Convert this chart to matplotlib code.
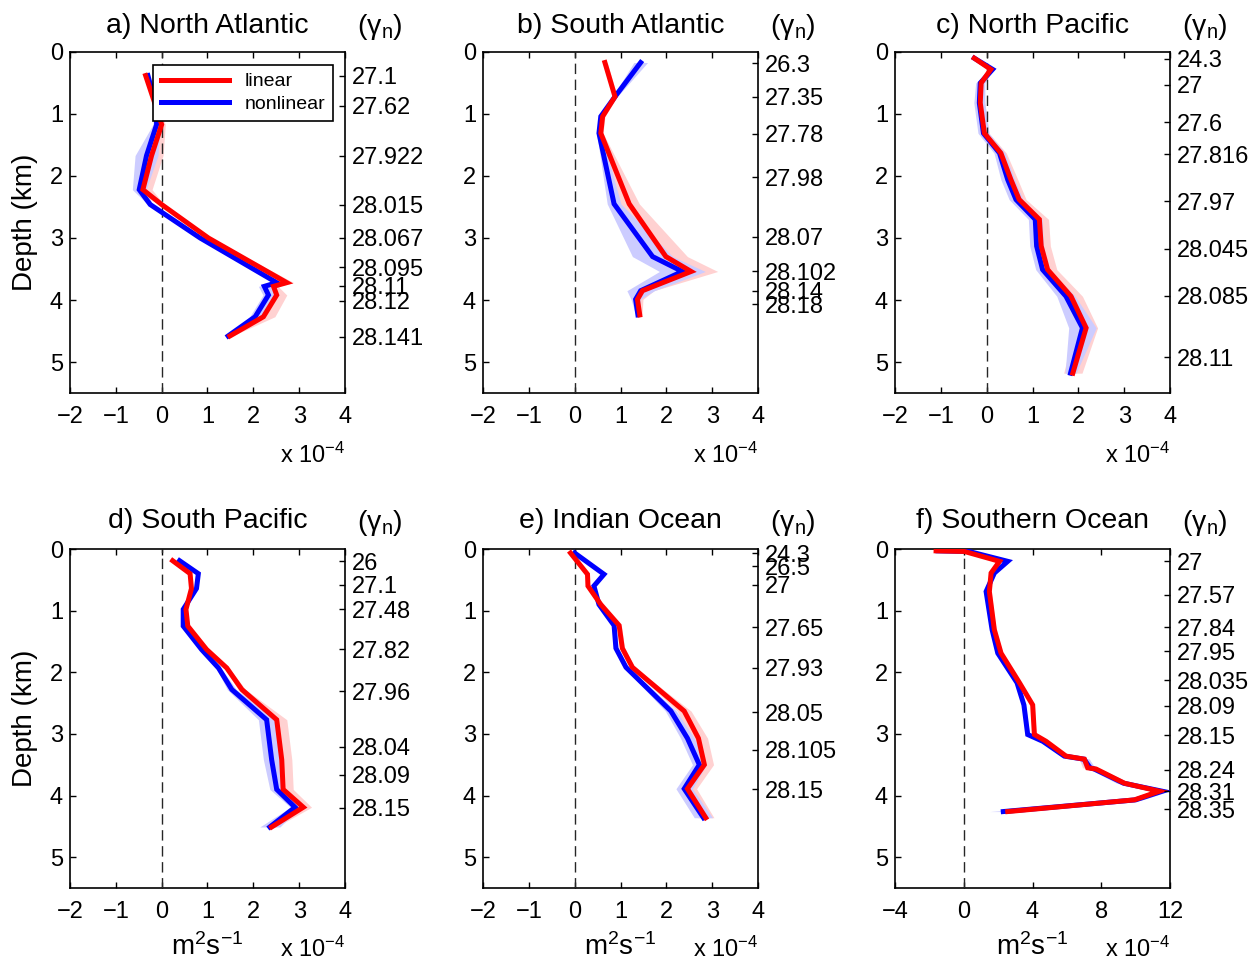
import matplotlib
matplotlib.use("Agg")
import matplotlib.pyplot as plt
import numpy as np

plt.rcParams['font.family'] = ['Liberation Sans', 'DejaVu Sans']
plt.rcParams['mathtext.fontset'] = 'custom'
plt.rcParams['mathtext.rm'] = 'Liberation Sans'
plt.rcParams['mathtext.it'] = 'Liberation Sans:italic'
plt.rcParams['mathtext.bf'] = 'Liberation Sans:bold'
plt.rcParams['axes.unicode_minus'] = True

# ---- diffusivity profiles (units of 1e-4 m^2 s^-1), depth in km ----
# a) North Atlantic
depth_a = [0.38, 0.87, 1.17, 1.67, 2.22, 2.46, 3.00, 3.72, 3.78, 3.92, 4.27, 4.58]
lin_a = [-0.35, -0.13, 0.00, -0.22, -0.41, 0.00, 1.02, 2.73, 2.44, 2.51, 2.22, 1.49]
nl_a = [-0.30, -0.12, -0.11, -0.33, -0.49, -0.25, 0.84, 2.51, 2.24, 2.33, 2.04, 1.45]
err_lin_a = [0.03, 0.05, 0.08, 0.25, 0.20, 0.05, 0.05, 0.15, 0.10, 0.22, 0.25, 0.05]
err_nl_a = [0.03, 0.05, 0.08, 0.25, 0.15, 0.05, 0.05, 0.08, 0.13, 0.12, 0.12, 0.05]
gamma_depth_a = [0.38, 0.87, 1.67, 2.46, 3.00, 3.47, 3.77, 4.01, 4.59]
gamma_a = ['27.1', '27.62', '27.922', '28.015', '28.067', '28.095', '28.11', '28.12', '28.141']

# b) South Atlantic
depth_b = [0.17, 0.72, 1.04, 1.31, 2.45, 3.30, 3.54, 3.85, 3.99, 4.24]
lin_b = [0.66, 0.88, 0.61, 0.57, 1.19, 1.99, 2.54, 1.48, 1.37, 1.42]
nl_b = [1.44, 0.88, 0.57, 0.53, 0.86, 1.70, 2.35, 1.44, 1.33, 1.38]
err_lin_b = [0.05, 0.05, 0.05, 0.05, 0.22, 0.47, 0.58, 0.25, 0.12, 0.05]
err_nl_b = [0.15, 0.05, 0.05, 0.05, 0.15, 0.44, 0.50, 0.30, 0.10, 0.05]
gamma_depth_b = [0.18, 0.72, 1.32, 2.02, 2.98, 3.54, 3.85, 4.07]
gamma_b = ['26.3', '27.35', '27.78', '27.98', '28.07', '28.102', '28.14', '28.18']

# c) North Pacific
depth_c = [0.10, 0.28, 0.50, 0.82, 1.31, 1.63, 2.06, 2.38, 2.70, 3.13, 3.51, 3.94, 4.45, 5.18]
lin_c = [-0.27, 0.09, -0.12, -0.14, -0.05, 0.31, 0.53, 0.71, 1.15, 1.19, 1.33, 1.84, 2.17, 1.88]
nl_c = [-0.27, 0.13, -0.14, -0.16, -0.07, 0.28, 0.46, 0.64, 1.06, 1.09, 1.22, 1.73, 2.09, 1.83]
err_lin_c = [0.02, 0.02, 0.05, 0.10, 0.10, 0.12, 0.15, 0.15, 0.20, 0.20, 0.20, 0.25, 0.25, 0.20]
err_nl_c = [0.02, 0.02, 0.10, 0.12, 0.12, 0.12, 0.15, 0.15, 0.15, 0.15, 0.15, 0.20, 0.30, 0.12]
gamma_depth_c = [0.11, 0.53, 1.13, 1.65, 2.41, 3.17, 3.93, 4.92]
gamma_c = ['24.3', '27', '27.6', '27.816', '27.97', '28.045', '28.085', '28.11']

# d) South Pacific
depth_d = [0.19, 0.40, 0.64, 0.98, 1.25, 1.63, 1.93, 2.28, 2.77, 3.42, 3.90, 4.19, 4.51]
lin_d = [0.24, 0.62, 0.65, 0.53, 0.57, 0.98, 1.42, 1.75, 2.51, 2.62, 2.65, 3.09, 2.40]
nl_d = [0.39, 0.80, 0.76, 0.47, 0.47, 0.87, 1.24, 1.53, 2.29, 2.40, 2.51, 2.91, 2.36]
err_lin_d = [0.02, 0.03, 0.03, 0.03, 0.03, 0.05, 0.05, 0.08, 0.22, 0.22, 0.22, 0.18, 0.10]
err_nl_d = [0.02, 0.03, 0.03, 0.03, 0.03, 0.05, 0.05, 0.10, 0.18, 0.18, 0.15, 0.10, 0.22]
gamma_depth_d = [0.20, 0.58, 0.98, 1.63, 2.31, 3.21, 3.66, 4.20]
gamma_d = ['26', '27.1', '27.48', '27.82', '27.96', '28.04', '28.09', '28.15']

# e) Indian Ocean
depth_e = [0.065, 0.41, 0.60, 0.90, 1.24, 1.61, 1.92, 2.63, 3.07, 3.50, 3.89, 4.36]
lin_e = [-0.09, 0.28, 0.29, 0.57, 0.97, 1.04, 1.26, 2.39, 2.70, 2.83, 2.46, 2.86]
nl_e = [0.00, 0.64, 0.42, 0.53, 0.86, 0.90, 1.12, 2.10, 2.46, 2.72, 2.39, 2.81]
err_lin_e = [0.02, 0.03, 0.03, 0.03, 0.05, 0.05, 0.05, 0.15, 0.20, 0.20, 0.20, 0.18]
err_nl_e = [0.02, 0.03, 0.03, 0.03, 0.05, 0.05, 0.05, 0.12, 0.15, 0.15, 0.18, 0.20]
gamma_depth_e = [0.065, 0.28, 0.58, 1.27, 1.93, 2.65, 3.26, 3.90]
gamma_e = ['24.3', '26.5', '27', '27.65', '27.93', '28.05', '28.105', '28.15']

# f) Southern Ocean
depth_f = [0.03, 0.04, 0.20, 0.39, 0.69, 1.31, 1.69, 2.17, 2.53, 3.01, 3.12, 3.36,
           3.41, 3.55, 3.57, 3.80, 3.93, 4.07, 4.26]
lin_f = [-1.61, 0.04, 2.08, 1.59, 1.49, 1.78, 2.17, 3.24, 4.01, 4.11, 4.79, 5.95,
         7.02, 7.21, 7.70, 9.35, 11.38, 9.93, 2.56]
nl_f = [-1.50, 0.30, 2.56, 1.78, 1.30, 1.65, 1.98, 3.10, 3.50, 3.72, 4.60, 5.85,
        7.00, 7.35, 7.60, 9.30, 11.55, 10.00, 2.30]
err_lin_f = [0.05, 0.05, 0.10, 0.10, 0.10, 0.10, 0.10, 0.10, 0.10, 0.10, 0.15, 0.20,
             0.30, 0.30, 0.30, 0.30, 0.30, 0.30, 0.30]
err_nl_f = [0.05, 0.05, 0.10, 0.10, 0.10, 0.10, 0.10, 0.10, 0.10, 0.10, 0.15, 0.20,
            0.30, 0.30, 0.30, 0.40, 0.40, 0.40, 0.80]
gamma_depth_f = [0.20, 0.74, 1.27, 1.66, 2.13, 2.54, 3.02, 3.58, 3.93, 4.22]
gamma_f = ['27', '27.57', '27.84', '27.95', '28.035', '28.09', '28.15', '28.24', '28.31', '28.35']

titles = ['a) North Atlantic', 'b) South Atlantic', 'c) North Pacific',
          'd) South Pacific', 'e) Indian Ocean', 'f) Southern Ocean']

panels = [
    (depth_a, lin_a, nl_a, err_lin_a, err_nl_a, gamma_depth_a, gamma_a),
    (depth_b, lin_b, nl_b, err_lin_b, err_nl_b, gamma_depth_b, gamma_b),
    (depth_c, lin_c, nl_c, err_lin_c, err_nl_c, gamma_depth_c, gamma_c),
    (depth_d, lin_d, nl_d, err_lin_d, err_nl_d, gamma_depth_d, gamma_d),
    (depth_e, lin_e, nl_e, err_lin_e, err_nl_e, gamma_depth_e, gamma_e),
    (depth_f, lin_f, nl_f, err_lin_f, err_nl_f, gamma_depth_f, gamma_f),
]

W, H = 1258, 961
fig = plt.figure(figsize=(W / 100, H / 100), dpi=100)

# axes boxes in pixels: left, top, right, bottom
boxes = [(70, 52, 345, 393), (483, 52, 758, 393), (895, 52, 1170, 393),
         (70, 549, 345, 888), (483, 549, 758, 888), (895, 549, 1170, 888)]

RED = (1.0, 0.0, 0.0)
BLUE = (0.0, 0.0, 1.0)
RED_BAND = (1.0, 0.82, 0.82)
BLUE_BAND = (0.80, 0.80, 1.0)
TICK_FS = 17

for i, (box, title, data) in enumerate(zip(boxes, titles, panels)):
    l, t, r, b = box
    ax = fig.add_axes([l / W, 1 - b / H, (r - l) / W, (b - t) / H])
    depth, lin, nl, elin, enl, gdep, glab = data
    depth = np.asarray(depth, float)
    lin = np.asarray(lin, float)
    nl = np.asarray(nl, float)
    elin = np.asarray(elin, float)
    enl = np.asarray(enl, float)

    ax.fill_betweenx(depth, lin - elin, lin + elin, color=RED_BAND, lw=0, zorder=1)
    ax.fill_betweenx(depth, nl - enl, nl + enl, color=BLUE_BAND, lw=0, zorder=2)
    ax.axvline(0, color='0.15', lw=1.0, ls=(0, (7.5, 4)), zorder=3)
    hb, = ax.plot(nl, depth, color=BLUE, lw=3.6, solid_joinstyle='miter', zorder=4)
    hr, = ax.plot(lin, depth, color=RED, lw=3.6, solid_joinstyle='miter', zorder=5)

    if i == 5:
        ax.set_xlim(-4, 12)
        ax.set_xticks([-4, 0, 4, 8, 12])
    else:
        ax.set_xlim(-2, 4)
        ax.set_xticks([-2, -1, 0, 1, 2, 3, 4])
    ax.set_ylim(5.5, 0)
    ax.set_yticks([0, 1, 2, 3, 4, 5])

    ax.tick_params(direction='in', length=4, width=1.0, labelsize=TICK_FS,
                   top=True, right=True, pad=9)
    ax.tick_params(axis='y', pad=5)
    for sp in ax.spines.values():
        sp.set_linewidth(1.2)

    # neutral density labels on the right side
    ax2 = ax.twinx()
    ax2.set_ylim(5.5, 0)
    ax2.set_yticks(gdep)
    ax2.set_yticklabels(glab)
    ax2.tick_params(direction='in', length=4, width=1.0, labelsize=TICK_FS, pad=5)
    for sp in ax2.spines.values():
        sp.set_visible(False)

    ytitle = 1.077 if i < 3 else 1.082
    ax.text(0.5, ytitle, title, transform=ax.transAxes, ha='center', va='center',
            fontsize=20.5)
    ax.text(1.125, ytitle - 0.005, r'($\mathregular{\gamma_n}$)', transform=ax.transAxes,
            ha='center', va='center', fontsize=20.5)

    ybot = -0.183 if i < 3 else -0.18
    ax.text(1.0, ybot, r'x 10$^{\mathregular{-4}}$', transform=ax.transAxes,
            ha='right', va='center', fontsize=TICK_FS)

    if i % 3 == 0:
        ax.set_ylabel('Depth (km)', fontsize=20)
        ax.yaxis.set_label_coords(-0.116, 0.5)
    if i >= 3:
        ax.text(0.5, -0.174, r'm$^{\mathregular{2}}$s$^{\mathregular{-1}}$',
                transform=ax.transAxes, ha='center', va='center', fontsize=20)

    if i == 0:
        leg = ax.legend([hr, hb], ['linear', 'nonlinear'], loc='upper right',
                        bbox_to_anchor=(0.956, 0.962), fontsize=14,
                        handlelength=3.5, fancybox=False, framealpha=1,
                        edgecolor='black', borderpad=0.4, labelspacing=0.25,
                        handletextpad=0.8, borderaxespad=0)
        leg.get_frame().set_linewidth(1.2)
        leg.set_zorder(10)

fig.savefig('out.png', dpi=100)
